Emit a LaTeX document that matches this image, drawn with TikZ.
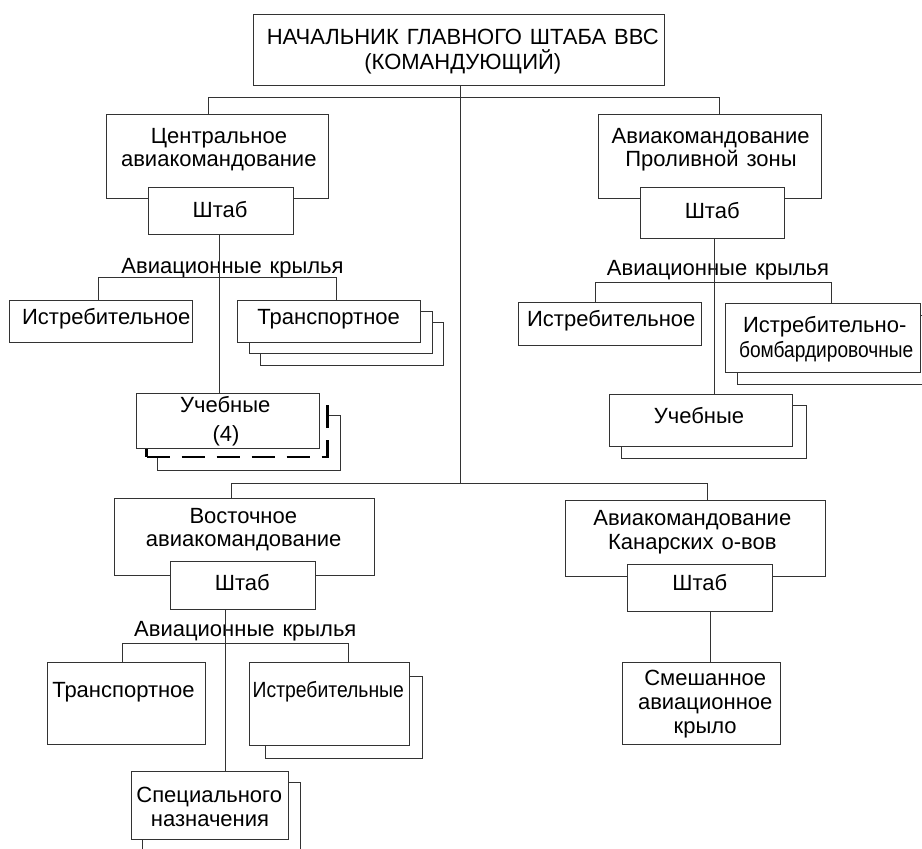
\documentclass[tikz,border=0pt]{standalone}
\usepackage{fontspec}
\usepackage{graphicx}
\setmainfont{Liberation Sans}[WordSpace=1.3]
\definecolor{ln}{gray}{0.2}
\newcommand\mybox[6][]{\node[box,#1,minimum width={#5-#3},minimum height={#6-#4}] (#2) at ({(#3+#5)/2},{(#4+#6)/2}) {};}
\newcommand\mytext[4][]{\node[lbl,#1] (#2) at (#3) {#4};}
\begin{document}
\begin{tikzpicture}[x=1pt,y=-1pt,
  box/.style={draw=ln,fill=white,line width=0.9pt,inner sep=0pt,outer sep=0pt},
  dashbox/.style={draw=black,line width=2.4pt,dash pattern=on 23pt off 12pt},
  lbl/.style={inner sep=0pt,anchor=base,text=black,font=\fontsize{22}{25}\selectfont},
  conn/.style={draw=ln,line width=0.9pt}]
\useasboundingbox (0,0) rectangle (922,849);
\clip (0,0) rectangle (922,849);
% ---------- boxes ----------
\mybox{top}{253}{14}{664}{85}
\mybox{central}{106.3}{114.7}{328.3}{198.7}
\mybox{shtabC}{148.3}{187.3}{293.3}{234.7}
\mybox{istrL}{9.3}{300}{192.7}{342.3}
\mybox{trLc}{260.3}{322.7}{443.3}{365.7}
\mybox{trLb}{249}{311.3}{432}{353.3}
\mybox{trL}{237.7}{300}{420.7}{342.3}
\mybox{uchCc}{157.3}{415}{340}{470.7}
\mybox[dashbox]{uchCb}{146.5}{404.7}{327.5}{457}
\mybox{uchC}{136}{393.3}{319}{448.3}
\mybox{proliv}{598.7}{114.7}{821}{198.7}
\mybox{shtabR}{640}{187.3}{784.3}{238.7}
\mybox{istrR}{518.7}{302.3}{701.7}{345.7}
\mybox{ibb}{737.3}{315.5}{935}{384.3}
\mybox{ib}{725.7}{303.3}{920.5}{372}
\mybox{uchRb}{621.7}{405.3}{806}{458.7}
\mybox{uchR}{609.7}{394}{792.7}{446}
\mybox{vost}{114.3}{498.7}{374.7}{575.3}
\mybox{shtabV}{170.3}{561.7}{315}{609}
\mybox{trB}{47.7}{662.3}{205.3}{744.7}
\mybox{isBb}{265}{676.7}{422.3}{758.7}
\mybox{isB}{249.3}{662.7}{409.3}{745.3}
\mybox{specb}{142.7}{782.7}{300}{862}
\mybox{spec}{131.7}{771.7}{288.3}{839.3}
\mybox{kan}{565.3}{500.3}{825.3}{576.7}
\mybox{shtabK}{627.7}{564}{772.3}{611.3}
\mybox{smesh}{622.7}{662.3}{780}{744.3}
% ---------- texts ----------
\mytext{t1}{462.7,44.3}{НАЧАЛЬНИК ГЛАВНОГО ШТАБА ВВС}
\mytext{t2}{462.8,69.3}{(КОМАНДУЮЩИЙ)}
\mytext{c1}{219,143.3}{Центральное}
\mytext{c2}{218.8,166.7}{авиакомандование}
\mytext{sc}{220,217.3}{Штаб}
\mytext{wl}{232.5,273.3}{Авиационные крылья}
\mytext{il}{106.3,324}{Истребительное}
\mytext{tl}{328.7,324}{Транспортное}
\mytext{u1}{225.2,412.5}{Учебные}
\mytext{u2}{226,441}{(4)}
\mytext{p1}{710.7,143.3}{Авиакомандование}
\mytext{p2}{711,166.7}{Проливной зоны}
\mytext{sr}{712.2,218.3}{Штаб}
\mytext{wr}{718,275.5}{Авиационные крылья}
\mytext{ir}{611.3,326.7}{Истребительное}
\mytext{ib1}{824.7,332.7}{Истребительно-}
\mytext{ib2}{826.2,357.5}{\scalebox{0.87}[1]{бомбардировочные}}
\mytext{ur}{699,423.3}{Учебные}
\mytext{v1}{243.3,523.3}{Восточное}
\mytext{v2}{243.7,546.7}{авиакомандование}
\mytext{sv}{242.3,590}{Штаб}
\mytext{wv}{245.3,636.7}{Авиационные крылья}
\mytext{tb}{123.5,697.7}{Транспортное}
\mytext{ibt}{328.3,697.7}{\scalebox{0.88}[1]{Истребительные}}
\mytext{s1}{209.2,802.5}{Специального}
\mytext{s2}{210,826}{назначения}
\mytext{k1}{692.3,525}{Авиакомандование}
\mytext{k2}{692.3,549}{Канарских о-вов}
\mytext{sk}{699.8,590}{Штаб}
\mytext{m1}{705.2,685}{Смешанное}
\mytext{m2}{705.2,709}{авиационное}
\mytext{m3}{705.2,733.3}{крыло}
% ---------- connector points ----------
\coordinate (tk) at (460,483);
\coordinate (dC) at (208,97.3);
\coordinate (dP) at (719,97.3);
\coordinate (dV) at (231,483);
\coordinate (dK) at (707.7,483);
\coordinate (vC) at (219,0);
\coordinate (vR) at (714.3,0);
\coordinate (vV) at (225.7,0);
\coordinate (vK) at (710.3,0);
\coordinate (wL1) at (98.7,277.7);
\coordinate (wL2) at (336.7,277.7);
\coordinate (wR1) at (595,282.5);
\coordinate (wR2) at (831.7,282.5);
\coordinate (wV1) at (122.7,643.3);
\coordinate (wV2) at (348.7,643.3);
% ---------- connectors ----------
\draw[conn] (top.south -| tk) -- (tk);
\draw[conn] (central.north -| dC) |- (dP) -- (proliv.north -| dP);
\draw[conn] (vost.north -| dV) |- (dK) -- (kan.north -| dK);
\draw[conn] (shtabC.south -| vC) -- (uchC.north -| vC);
\draw[conn] (istrL.north -| wL1) |- (wL2) -- (trL.north -| wL2);
\draw[conn] (shtabR.south -| vR) -- (uchR.north -| vR);
\draw[conn] (istrR.north -| wR1) |- (wR2) -- (ib.north -| wR2);
\draw[conn] (shtabV.south -| vV) -- (spec.north -| vV);
\draw[conn] (trB.north -| wV1) |- (wV2) -- (isB.north -| wV2);
\draw[conn] (shtabK.south -| vK) -- (smesh.north -| vK);
\end{tikzpicture}
\end{document}
